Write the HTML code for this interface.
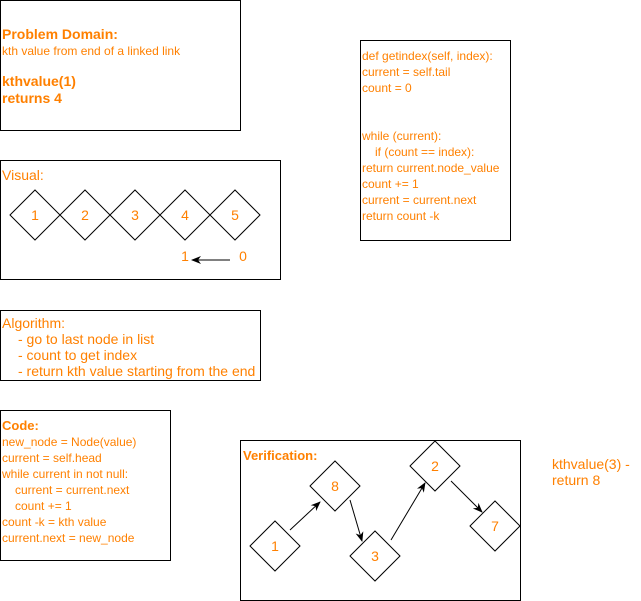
<!DOCTYPE html>
<html><head><style>
body{margin:0;background:#fff}
svg{display:block}
text{font-family:"Liberation Sans",sans-serif;fill:#FF8000}
</style></head><body>
<svg width="641" height="601" viewBox="0 0 641 601" xmlns="http://www.w3.org/2000/svg">
<defs><marker id="a" markerWidth="10" markerHeight="8" refX="9" refY="4" orient="auto" markerUnits="userSpaceOnUse"><path d="M0,0 L10,4 L0,8 L3,4 Z" fill="#000"/></marker></defs>
<g fill="none" stroke="#000" stroke-width="1">
<rect x="0.5" y="0.5" width="240" height="130"/>
<rect x="0.5" y="160.5" width="280" height="119"/>
<rect x="360.5" y="40.5" width="150" height="200"/>
<rect x="0.5" y="310.5" width="260" height="70"/>
<rect x="0.5" y="410.5" width="170" height="150"/>
<rect x="240.5" y="440.5" width="280" height="160"/>
<path d="M10,215 L35,190 L60,215 L35,240 Z M60,215 L85,190 L110,215 L85,240 Z M110,215 L135,190 L160,215 L135,240 Z M160,215 L185,190 L210,215 L185,240 Z M210,215 L235,190 L260,215 L235,240 Z"/>
<path d="M250,546 L275,521 L300,546 L275,571 Z M310,486 L335,461 L360,486 L335,511 Z M350,556 L375,531 L400,556 L375,581 Z M410,466 L435,441 L460,466 L435,491 Z M470,526 L495,501 L520,526 L495,551 Z"/>
<line x1="230" y1="260" x2="192" y2="260" marker-end="url(#a)"/>
<line x1="290" y1="530" x2="320" y2="502" marker-end="url(#a)"/>
<line x1="350" y1="500" x2="362" y2="541" marker-end="url(#a)"/>
<line x1="391" y1="540" x2="425" y2="483" marker-end="url(#a)"/>
<line x1="451" y1="481" x2="482" y2="512" marker-end="url(#a)"/>
</g>
<text x="2" y="39" font-size="14" font-weight="bold">Problem Domain:</text>
<text x="2" y="55" font-size="12">kth value from end of a linked link</text>
<text x="2" y="86" font-size="14" font-weight="bold">kthvalue(1)</text>
<text x="2" y="103" font-size="14" font-weight="bold">returns 4</text>
<text x="2" y="180" font-size="14">Visual:</text>
<g font-size="14" text-anchor="middle">
<text x="35" y="220">1</text><text x="85" y="220">2</text><text x="135" y="220">3</text><text x="185" y="220">4</text><text x="235" y="220">5</text>
<text x="185" y="261">1</text><text x="243" y="261">0</text>
<text x="275" y="551">1</text><text x="335" y="491">8</text><text x="375" y="561">3</text><text x="435" y="471">2</text><text x="495" y="531">7</text>
</g>
<g font-size="12">
<text x="362" y="60">def getindex(self, index):</text>
<text x="362" y="76">current = self.tail</text>
<text x="362" y="92">count = 0</text>
<text x="362" y="140">while (current):</text>
<text x="375" y="156">if (count == index):</text>
<text x="362" y="172">return current.node_value</text>
<text x="362" y="188">count += 1</text>
<text x="362" y="204">current = current.next</text>
<text x="362" y="220">return count -k</text>
</g>
<g font-size="14">
<text x="2" y="328">Algorithm:</text>
<text x="18" y="344">- go to last node in list</text>
<text x="18" y="360">- count to get index</text>
<text x="18" y="376">- return kth value starting from the end</text>
</g>
<text x="2" y="430" font-size="13" font-weight="bold">Code:</text>
<g font-size="12">
<text x="2" y="446">new_node = Node(value)</text>
<text x="2" y="462">current = self.head</text>
<text x="2" y="478">while current in not null:</text>
<text x="15" y="494">current = current.next</text>
<text x="15" y="510">count += 1</text>
<text x="2" y="526">count -k = kth value</text>
<text x="2" y="542">current.next = new_node</text>
</g>
<text x="243" y="460" font-size="13" font-weight="bold">Verification:</text>
<text x="552" y="469" font-size="14">kthvalue(3) -</text>
<text x="552" y="485" font-size="14">return 8</text>
</svg>
</body></html>
